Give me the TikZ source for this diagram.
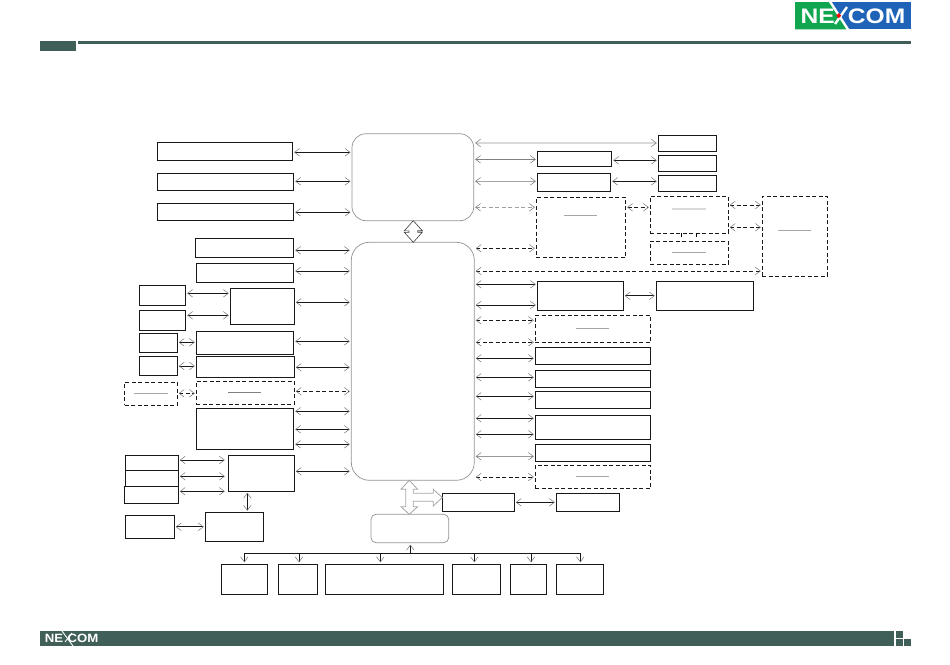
\documentclass[tikz,border=0pt]{standalone}
\usepackage{fontspec}
\setmainfont{Liberation Sans}
\usetikzlibrary{arrows.meta}
\definecolor{band}{HTML}{3F5F58}
\definecolor{logogreen}{HTML}{0FA64F}
\definecolor{logoblue}{HTML}{1F63B8}
\tikzset{
  barb/.tip={Straight Barb[length=5pt,width=7.5pt,line width=0.5pt,color=black!55]},
  box/.style={draw=black!90, line width=0.8pt, inner sep=0pt, outer sep=0pt},
  dbox/.style={box, dash pattern=on 4pt off 2.5pt},
  soft/.style={draw=gray!85, line width=0.7pt, inner sep=0pt, outer sep=0pt, rounded corners=#1},
  link/.style={line width=0.85pt, draw=black!90, shorten >=1.5pt, shorten <=1.5pt, barb-barb},
  dlink/.style={link, dash pattern=on 4pt off 2.5pt},
  drop/.style={line width=0.85pt, draw=black!90, shorten >=2pt, -barb},
  hair/.style={line width=0.7pt, draw=gray!70},
  fat/.style={line width=0.6pt, fill=white, line join=miter},
  logotext/.style={white, inner sep=0pt, outer sep=0pt, anchor=center}
}
\begin{document}
\begin{tikzpicture}[x=1pt, y=-1pt]
  \useasboundingbox (0,0) rectangle (950,664);

  % header and footer
  \fill[band] (40,41) rectangle (76,50.7);
  \fill[band] (78,41) rectangle (911,44);
  \fill[band] (40,631) rectangle (894,646);
  \fill[band] (895.7,631) rectangle (902.7,637.7);
  \fill[band] (895.7,639) rectangle (902.7,646);
  \fill[band] (903.7,639) rectangle (911,646);

  % logo
  \fill[logoblue] (795,2) rectangle (911,29.3);
  \fill[logogreen] (795,2) -- (830,2) -- (847,29.3) -- (795,29.3) -- cycle;
  \draw[white, line width=2.4pt] (830,1.5) -- (848,29.5);
  \draw[white, line width=2.4pt] (847,7) -- (835,24);
  \fill[red] (838.7,13.2) -- (841.2,15.7) -- (838.7,18.2) -- (836.2,15.7) -- cycle;
  \node[logotext, font=\fontsize{21}{21}\bfseries, xscale=1.17] (logoNE) at (817.8,15.8) {NE};
  \node[logotext, font=\fontsize{21}{21}\bfseries, xscale=1.17] (logoCOM) at (876.6,15.8) {COM};
  \node[logotext, font=\fontsize{12}{12}\bfseries, xscale=1.1] (footNE) at (54,638) {NE};
  \node[logotext, font=\fontsize{12}{12}\bfseries, xscale=1.1] (footCOM) at (83,638) {COM};
  \draw[white, line width=0.9pt] (62,631) -- (73,646);
  \draw[white, line width=0.9pt] (72,633) -- (65,642);

  % big blocks
  \node[soft=14pt, minimum width=121.7pt, minimum height=87pt] (P) at (412.85,177.2) {};
  \node[soft=18pt, minimum width=123pt, minimum height=238pt] (Q) at (412.8,361.3) {};
  \node[soft=5pt, minimum width=77.7pt, minimum height=28.4pt] (Y) at (409.85,528.5) {};

  % left side
  \node[box, minimum width=135.4pt, minimum height=18pt] (A1) at (225,151.3) {};
  \node[box, minimum width=136.4pt, minimum height=17.2pt] (A2) at (225.5,181.9) {};
  \node[box, minimum width=136.4pt, minimum height=17pt] (A3) at (225.5,212) {};
  \node[box, minimum width=98.4pt, minimum height=19pt] (B1) at (244.5,247.8) {};
  \node[box, minimum width=97.4pt, minimum height=19pt] (B2) at (245,272.8) {};
  \node[box, minimum width=46.4pt, minimum height=20pt] (C1) at (162.5,295.3) {};
  \node[box, minimum width=46.4pt, minimum height=20pt] (C2) at (162.5,320.3) {};
  \node[box, minimum width=64pt, minimum height=36pt] (C3) at (262.3,306.3) {};
  \node[box, minimum width=38pt, minimum height=19pt] (D1) at (158.3,342.8) {};
  \node[box, minimum width=97.4pt, minimum height=23pt] (D3) at (245,342.8) {};
  \node[box, minimum width=38pt, minimum height=19pt] (D2) at (158.3,365.8) {};
  \node[box, minimum width=98pt, minimum height=21pt] (D4) at (245.3,366.8) {};
  \node[dbox, minimum width=52.6pt, minimum height=23pt] (E1) at (151,393.8) {};
  \node[dbox, minimum width=98pt, minimum height=23pt] (E2) at (245.3,392.8) {};
  \node[box, minimum width=97.4pt, minimum height=41pt] (F) at (245,428.8) {};
  \node[box, minimum width=53pt, minimum height=15pt] (G1) at (151.8,462.8) {};
  \node[box, minimum width=53pt, minimum height=16pt] (G2) at (151.8,478.3) {};
  \node[box, minimum width=54pt, minimum height=17pt] (G3) at (151.3,494.8) {};
  \node[box, minimum width=66pt, minimum height=36pt] (H) at (261.3,473.3) {};
  \node[box, minimum width=49pt, minimum height=23pt] (I) at (149.8,526.8) {};
  \node[box, minimum width=58pt, minimum height=29pt] (J) at (234.3,526.8) {};

  % bottom row
  \node[box, minimum width=46pt, minimum height=30pt] (K1) at (244.3,579.3) {};
  \node[box, minimum width=39pt, minimum height=30pt] (K2) at (297.8,579.3) {};
  \node[box, minimum width=118pt, minimum height=30pt] (K3) at (384.3,579.3) {};
  \node[box, minimum width=48pt, minimum height=30pt] (K4) at (476.3,579.3) {};
  \node[box, minimum width=36pt, minimum height=30pt] (K5) at (528.3,579.3) {};
  \node[box, minimum width=47pt, minimum height=30pt] (K6) at (579.8,579.3) {};

  % right side
  \node[box, minimum width=74.4pt, minimum height=15pt] (R1) at (574.5,158.8) {};
  \node[box, minimum width=73.4pt, minimum height=18pt] (R2) at (574,182.3) {};
  \node[dbox, minimum width=89.4pt, minimum height=60pt] (R3) at (581,227.3) {};
  \node[box, minimum width=86pt, minimum height=29pt] (S1) at (580.3,295.8) {};
  \node[box, minimum width=97pt, minimum height=29pt] (S2) at (704.8,295.8) {};
  \node[dbox, minimum width=115.2pt, minimum height=27pt] (T) at (592.9,328.8) {};
  \node[box, minimum width=115.2pt, minimum height=17.3pt] (U1) at (592.9,355.65) {};
  \node[box, minimum width=115.2pt, minimum height=17pt] (U2) at (592.9,378.8) {};
  \node[box, minimum width=115.2pt, minimum height=17pt] (U3) at (592.9,399.8) {};
  \node[box, minimum width=115.2pt, minimum height=24pt] (U4) at (592.9,427.3) {};
  \node[box, minimum width=115.2pt, minimum height=17pt] (U5) at (592.9,452.8) {};
  \node[dbox, minimum width=115.2pt, minimum height=23pt] (V) at (592.9,476.8) {};
  \node[box, minimum width=72pt, minimum height=18pt] (W) at (478.3,502.3) {};
  \node[box, minimum width=63pt, minimum height=18pt] (X) at (587.8,502.3) {};
  \node[box, minimum width=58.4pt, minimum height=16pt] (Z1) at (687.5,143.3) {};
  \node[box, minimum width=58.4pt, minimum height=16pt] (Z2) at (687.5,163.3) {};
  \node[box, minimum width=58.4pt, minimum height=16pt] (Z3) at (687.5,183.3) {};
  \node[dbox, minimum width=78pt, minimum height=37pt] (AA) at (689.3,214.8) {};
  \node[dbox, minimum width=78pt, minimum height=23pt] (AB) at (689.3,252.8) {};
  \node[dbox, minimum width=65pt, minimum height=80pt] (AC) at (794.8,236.3) {};

  % rules in the dashed boxes
  \draw[hair] (134.3,393.3) -- (167.7,393.3);
  \draw[hair, draw=gray] (228,392.3) -- (261.3,392.3);
  \draw[hair] (564,215.3) -- (597.3,215.3);
  \draw[hair] (575.7,328) -- (609,328);
  \draw[hair] (575.7,476.3) -- (609,476.3);
  \draw[hair, draw=gray!30, line width=1.3pt] (672.3,209) -- (705.7,209);
  \draw[hair] (672.3,252.3) -- (705.7,252.3);
  \draw[hair] (778,230.3) -- (811,230.3);

  % left connectors
  \draw[link] (A1.east |- 0,152.3) -- (P.west |- 0,152.3);
  \draw[link] (A2.east |- 0,181.3) -- (P.west |- 0,181.3);
  \draw[link] (A3.east |- 0,212.3) -- (P.west |- 0,212.3);
  \draw[link] (B1.east |- 0,250.3) -- (Q.west |- 0,250.3);
  \draw[link] (B2.east |- 0,271) -- (Q.west |- 0,271);
  \draw[link] (C3.east |- 0,302.3) -- (Q.west |- 0,302.3);
  \draw[link] (D3.east |- 0,341.3) -- (Q.west |- 0,341.3);
  \draw[link] (D4.east |- 0,367.3) -- (Q.west |- 0,367.3);
  \draw[dlink] (E2.east |- 0,391.3) -- (Q.west |- 0,391.3);
  \draw[link] (F.east |- 0,411.3) -- (Q.west |- 0,411.3);
  \draw[link] (F.east |- 0,429.3) -- (Q.west |- 0,429.3);
  \draw[link] (F.east |- 0,444.3) -- (Q.west |- 0,444.3);
  \draw[link] (H.east |- 0,471.3) -- (Q.west |- 0,471.3);
  \draw[link] (C1.east |- 0,293.3) -- (C3.west |- 0,293.3);
  \draw[link] (C2.east |- 0,315.3) -- (C3.west |- 0,315.3);
  \draw[link] (D1.east |- 0,342.3) -- (D3.west |- 0,342.3);
  \draw[link] (D2.east |- 0,366) -- (D4.west |- 0,366);
  \draw[dlink] (E1.east |- 0,393.3) -- (E2.west |- 0,393.3);
  \draw[link, shorten >=3.5pt] (G1.east |- 0,460) -- (H.west |- 0,460);
  \draw[link, shorten >=3.5pt] (G2.east |- 0,476.3) -- (H.west |- 0,476.3);
  \draw[link, shorten >=3.5pt] (G3.east |- 0,491.3) -- (H.west |- 0,491.3);
  \draw[link] (H.south -| 247.3,0) -- (J.north -| 247.3,0);
  \draw[link] (I.east) -- (J.west |- I.east);

  % bottom bus
  \draw[line width=0.85pt, draw=black!90] (K1.north |- 0,553.3) -- (K6.north |- 0,553.3);
  \draw[drop] (244.3,553.3) -- (K1.north -| 244.3,0);
  \draw[drop] (299,553.3) -- (K2.north -| 299,0);
  \draw[drop] (380.3,553.3) -- (K3.north -| 380.3,0);
  \draw[drop] (474.3,553.3) -- (K4.north -| 474.3,0);
  \draw[drop] (531,553.3) -- (K5.north -| 531,0);
  \draw[drop] (580.3,553.3) -- (K6.north -| 580.3,0);
  \draw[drop] (410.3,553.3) -- (Y.south -| 410.3,0);

  % right connectors
  \draw[link, draw=gray!30, line width=1.2pt] (P.east |- 0,143) -- (Z1.west |- 0,143);
  \draw[link, draw=gray] (P.east |- 0,159.3) -- (R1.west |- 0,159.3);
  \draw[link, draw=gray!70, line width=1pt] (P.east |- 0,181.3) -- (R2.west |- 0,181.3);
  \draw[dlink, draw=gray!75] (P.east |- 0,207.3) -- (R3.west |- 0,207.3);
  \draw[dlink] (Q.east |- 0,248.3) -- (R3.west |- 0,248.3);
  \draw[dlink] (Q.east |- 0,271) -- (AC.west |- 0,271);
  \draw[link] (Q.east |- 0,284.3) -- (S1.west |- 0,284.3);
  \draw[link] (Q.east |- 0,305) -- (S1.west |- 0,305);
  \draw[dlink] (Q.east |- 0,320.3) -- (T.west |- 0,320.3);
  \draw[dlink] (Q.east |- 0,342.3) -- (T.west |- 0,342.3);
  \draw[link] (Q.east |- 0,358.3) -- (U1.west |- 0,358.3);
  \draw[link] (Q.east |- 0,377.3) -- (U2.west |- 0,377.3);
  \draw[link] (Q.east |- 0,396.3) -- (U3.west |- 0,396.3);
  \draw[link] (Q.east |- 0,418.3) -- (U4.west |- 0,418.3);
  \draw[link] (Q.east |- 0,434.3) -- (U4.west |- 0,434.3);
  \draw[link, draw=gray!80] (Q.east |- 0,456.3) -- (U5.west |- 0,456.3);
  \draw[dlink] (Q.east |- 0,477) -- (V.west |- 0,477);
  \draw[link] (R1.east |- 0,160.3) -- (Z2.west |- 0,160.3);
  \draw[link] (R2.east |- 0,181.3) -- (Z3.west |- 0,181.3);
  \draw[dlink] (R3.east |- 0,207.3) -- (AA.west |- 0,207.3);
  \draw[dlink] (AA.east |- 0,205) -- (AC.west |- 0,205);
  \draw[dlink] (AA.east |- 0,227.3) -- (AC.west |- 0,227.3);
  \draw[link] (S1.east) -- (S2.west);
  \draw[link] (W.east) -- (X.west);
  \draw[line width=0.6pt, dash pattern=on 4pt off 4pt] (AA.south -| 681.3,0) -- (AB.north -| 681.3,0);
  \draw[line width=0.6pt, dash pattern=on 4pt off 4pt] (AA.south -| 696.3,0) -- (AB.north -| 696.3,0);

  % wide arrows
  \coordinate (PQ) at (P.south -| 413.3,0);
  \draw[fat, draw=black!75] (PQ) -- ++(9,10) -- ++(-4.7,0) -- ++(0,1.5) -- ++(4.7,0) -- (Q.north -| 413.3,0)
    -- ++(-9,-10) -- ++(4.7,0) -- ++(0,-1.5) -- ++(-4.7,0) -- cycle;
  \coordinate (QY) at (Q.south -| 409.3,0);
  \draw[fat, draw=gray!70, line width=0.8pt] (QY) -- (417.6,489.3) -- (413.3,489.3) -- (413.3,493.3) -- (433.3,493.3) -- (433.3,489.3)
    -- (W.west |- 0,497.5) -- (433.3,506) -- (433.3,501.3) -- (413.3,501.3) -- (413.3,506.7) -- (417.6,506.7)
    -- (Y.north -| 409.3,0) -- (401,506.7) -- (405.7,506.7) -- (405.7,489.3) -- (401,489.3) -- cycle;
\end{tikzpicture}
\end{document}
